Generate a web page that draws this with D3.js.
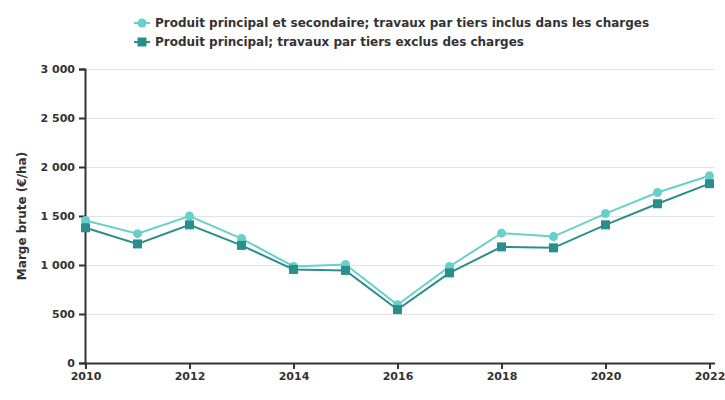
<!DOCTYPE html>
<html><head><meta charset="utf-8">
<script src="https://cdn.jsdelivr.net/npm/d3@7"></script>
<style>body{margin:0;background:#fff}svg{display:block}text{font-family:"DejaVu Sans",sans-serif;font-weight:bold;fill:#333}</style>
</head><body><svg id="c" width="725" height="400"></svg>
<script>
const years = [2010,2011,2012,2013,2014,2015,2016,2017,2018,2019,2020,2021,2022];
const seriesNames = ["Produit principal et secondaire; travaux par tiers inclus dans les charges","Produit principal; travaux par tiers exclus des charges"];
const inclus = [1455,1320,1500,1270,985,1005,595,985,1325,1290,1525,1740,1910];
const exclus = [1380,1215,1410,1200,955,945,545,920,1185,1175,1410,1625,1830];
const yTicks = [0,500,1000,1500,2000,2500,3000];
const xTicks = [2010,2012,2014,2016,2018,2020,2022];
const colors = ["#66d1cc","#2a8f8c"];

const svg = d3.select("#c");
const x = d3.scaleLinear().domain([2010,2022]).range([85.5,709.5]);
const y = d3.scaleLinear().domain([0,3000]).range([363,69]);
const fmt = v => d3.format(",")(v).replace(/,/g," ");

// gridlines
svg.append("g").selectAll("line").data(yTicks.filter(d=>d>0)).join("line")
  .attr("x1",86).attr("x2",715).attr("y1",d=>Math.round(y(d))+0.5).attr("y2",d=>Math.round(y(d))+0.5)
  .attr("stroke","#e3e3e3").attr("stroke-width",1);

// y axis
const ya = svg.append("g").attr("transform","translate(85,0)")
  .call(d3.axisLeft(y).tickValues(yTicks).tickFormat(fmt).tickSize(6).tickPadding(4));
ya.select(".domain").attr("stroke","#333").attr("stroke-width",2);
ya.selectAll(".tick line").attr("stroke","#333").attr("stroke-width",2);
ya.selectAll(".tick text").attr("font-size",11).attr("fill","#333").attr("font-family","DejaVu Sans").attr("font-weight","bold");

// x axis
const xa = svg.append("g").attr("transform","translate(0,363)")
  .call(d3.axisBottom(x).tickValues(xTicks).tickFormat(d3.format("d")).tickSize(6).tickPadding(3));
xa.select(".domain").attr("d","M85,0.5H715").attr("stroke","#333").attr("stroke-width",2);
xa.selectAll(".tick line").attr("stroke","#333").attr("stroke-width",2);
xa.selectAll(".tick text").attr("font-size",11).attr("fill","#333").attr("font-family","DejaVu Sans").attr("font-weight","bold");

// y title
svg.append("text").attr("transform","translate(26,216) rotate(-90)").attr("text-anchor","middle")
  .attr("font-size",12).text("Marge brute (€/ha)");

const line = d3.line().x((d,i)=>x(years[i])).y(d=>y(d));
const data = [inclus, exclus];
data.forEach((vals,k)=>{
  svg.append("path").datum(vals).attr("d",line).attr("fill","none").attr("stroke",colors[k]).attr("stroke-width",2);
});
// markers
svg.append("g").selectAll("circle").data(inclus).join("circle")
  .attr("cx",(d,i)=>x(years[i])).attr("cy",d=>y(d)).attr("r",4.5).attr("fill",colors[0]);
svg.append("g").selectAll("rect").data(exclus).join("rect")
  .attr("x",(d,i)=>x(years[i])-4.5).attr("y",d=>y(d)-4.5).attr("width",9).attr("height",9).attr("fill",colors[1]);

// legend
const lg = svg.append("g");
seriesNames.forEach((n,k)=>{
  const yy = 23 + k*19;
  lg.append("line").attr("x1",134).attr("x2",150).attr("y1",yy).attr("y2",yy).attr("stroke",colors[k]).attr("stroke-width",2);
  if(k===0) lg.append("circle").attr("cx",142).attr("cy",yy).attr("r",4.5).attr("fill",colors[k]);
  else lg.append("rect").attr("x",137.5).attr("y",yy-4.5).attr("width",9).attr("height",9).attr("fill",colors[k]);
  lg.append("text").attr("x",155).attr("y",yy).attr("dy","0.35em").attr("font-size",12).text(n);
});
</script></body></html>
